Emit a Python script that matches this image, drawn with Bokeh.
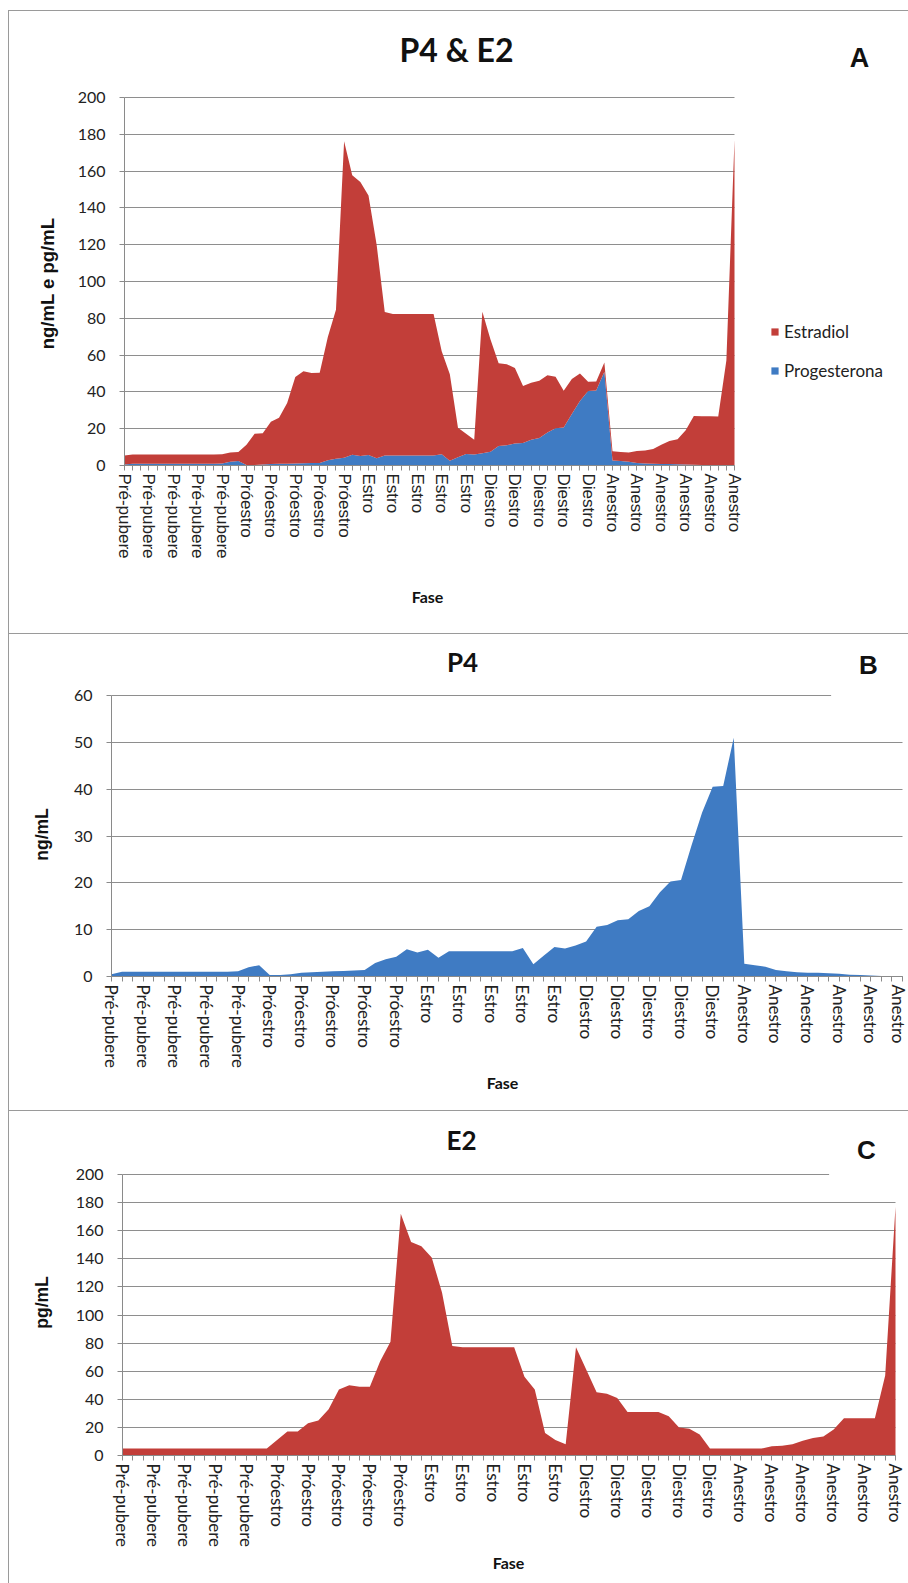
import math

from bokeh.plotting import figure
from bokeh.models import ColumnDataSource, FixedTicker, Label, Legend, LegendItem
from bokeh.embed import file_html
from bokeh.resources import INLINE

# Phase name shown under every third sample
phase_labels = (["Pré-pubere"] * 5 + ["Próestro"] * 5 + ["Estro"] * 5
                + ["Diestro"] * 5 + ["Anestro"] * 6)
label_every = 3

# Progesterone (ng/mL), one value per sample
progesterona = [
    0.5, 1.0, 1.0, 1.0, 1.0, 1.0, 1.0, 1.0, 1.0, 1.0, 1.0, 1.0, 1.1, 2.0, 2.4,
    0.3, 0.3, 0.5, 0.8, 0.9, 1.0, 1.1, 1.2, 1.3, 1.4, 2.9, 3.7, 4.2, 5.8, 5.1,
    5.7, 4.0, 5.4, 5.4, 5.4, 5.4, 5.4, 5.4, 5.4, 6.1, 2.6, 4.5, 6.3, 6.0, 6.6,
    7.5, 10.6, 11.0, 12.0, 12.2, 14.0, 15.0, 18.0, 20.3, 20.6, 28.0, 35.0, 40.5, 40.7, 51.0,
    2.7, 2.4, 2.1, 1.4, 1.1, 0.9, 0.8, 0.8, 0.7, 0.6, 0.4, 0.3, 0.2, 0.1, 0.1, 0.1,
]

# Estradiol (pg/mL), one value per sample
estradiol = [
    5, 5, 5, 5, 5, 5, 5, 5, 5, 5, 5, 5, 5, 5, 5,
    11, 17, 17, 23, 25, 33, 47, 50, 49, 49, 67, 81, 172, 152, 149,
    141, 116, 78, 77, 77, 77, 77, 77, 77, 56, 47, 16, 11, 8, 77,
    61, 45, 44, 41, 31, 31, 31, 31, 28, 20, 19, 15, 5, 5, 5,
    5, 5, 5, 6.5, 7, 8, 10.5, 12.5, 13.5, 18.5, 26.5, 26.5, 26.5, 26.5, 57, 177,
]

RED = "#C23E39"
BLUE = "#3F7BC3"
GRID = "#8E8E8E"
AXIS = "#8A8A8A"
BORDER = "1px solid #9a9a9a"

n = len(estradiol)
last = n - 1
x = list(range(n))
source = ColumnDataSource(dict(x=x, progesterona=progesterona, estradiol=estradiol))

tick_overrides = {i: (phase_labels[i // label_every] if i % label_every == 0 else "")
                  for i in x}

PAGE_W = 908
PAGE_LEFT = 8


def make_panel(top, height, x0_px, xl_px, y0_px, ytop_px, ymax, ystep, x_font, x_font_size):
    """One panel whose frame fills the whole canvas.  Both axes are pinned at
    zero and bounded to the data area, so every text can live in the frame.
    Positions are given in page pixels."""
    width = PAGE_W - PAGE_LEFT
    left, right = PAGE_LEFT + 1, PAGE_LEFT + 1 + width
    ptop, pbot = top + 1, top + 1 + height
    kx = last / (xl_px - x0_px)
    ky = ymax / (y0_px - ytop_px)
    p = figure(width=width, height=height,
               x_range=((left - x0_px) * kx, (right - x0_px) * kx),
               y_range=((y0_px - pbot) * ky, (y0_px - ptop) * ky),
               output_backend="svg", toolbar_location=None,
               min_border=0, background_fill_color="white",
               border_fill_color="white", outline_line_color=None)
    p.margin = (top if top < 100 else 0, 0, 0, PAGE_LEFT)
    p.styles = {"border-top": BORDER, "border-left": BORDER, "box-sizing": "border-box"}

    p.xaxis.fixed_location = 0
    p.xaxis.bounds = (0, last)
    p.xaxis.ticker = FixedTicker(ticks=x)
    p.xaxis.major_label_overrides = tick_overrides
    p.xaxis.major_label_orientation = "vertical"
    p.xaxis.major_label_text_font = x_font
    p.xaxis.major_label_text_font_size = x_font_size
    p.xaxis.major_label_text_color = "#222222"
    p.xaxis.major_tick_out = 5
    p.xaxis.major_tick_in = 0
    p.xaxis.major_label_standoff = 3

    p.yaxis.fixed_location = 0
    p.yaxis.bounds = (0, ymax)
    p.yaxis.ticker = FixedTicker(ticks=list(range(0, ymax + 1, ystep)))
    p.yaxis.major_label_text_font = "Lato"
    p.yaxis.major_label_text_font_size = "16px"
    p.yaxis.major_label_text_color = "#222222"
    p.yaxis.major_tick_out = 5
    p.yaxis.major_tick_in = 0
    p.yaxis.major_label_standoff = 14

    for ax in (p.xaxis, p.yaxis):
        ax.axis_line_color = AXIS
        ax.major_tick_line_color = AXIS
        ax.minor_tick_line_color = None

    p.xgrid.grid_line_color = None
    p.ygrid.grid_line_color = GRID
    p.ygrid.cross_bounds = (0, last)

    def put(px, py, text, font, size, bold=True, angle=0.0, **kw):
        p.add_layout(Label(x=px - left, y=pbot - py, x_units="screen", y_units="screen",
                           text=text, text_font=font, text_font_size=size,
                           text_font_style="bold" if bold else "normal",
                           text_align="center", text_baseline="middle",
                           angle=angle, text_color="#111111", **kw))

    def screen(px, py):
        return px - left, pbot - py

    return p, put, screen


VERTICAL = math.pi / 2

# ---- Panel A: stacked progesterone + estradiol ----
pa, put_a, scr_a = make_panel(top=10, height=623, x0_px=124, xl_px=734, y0_px=465,
                              ytop_px=97, ymax=200, ystep=20,
                              x_font="Liberation Sans", x_font_size="17px")
stack = pa.varea_stack(["progesterona", "estradiol"], x="x", color=[BLUE, RED], source=source)
put_a(456, 49, "P4 & E2", "Lato", "32px")
put_a(859, 57, "A", "Liberation Sans", "27px")
put_a(47, 283, "ng/mL e pg/mL", "Liberation Sans", "18.5px", angle=VERTICAL)
put_a(427, 596, "Fase", "Lato", "16px")
legend = Legend(items=[LegendItem(label="Estradiol", renderers=[stack[1]]),
                       LegendItem(label="Progesterona", renderers=[stack[0]])],
                location=scr_a(770, 381), orientation="vertical",
                glyph_width=9, glyph_height=9, label_height=20, spacing=18,
                label_standoff=5, padding=0, margin=0, border_line_color=None,
                background_fill_alpha=0, label_text_font="Lato",
                label_text_font_size="17px", label_text_color="#222222")
pa.add_layout(legend)

# ---- Panel B: progesterone ----
pb, put_b, _ = make_panel(top=633, height=477, x0_px=111, xl_px=902, y0_px=976,
                          ytop_px=695, ymax=60, ystep=10,
                          x_font="Lato", x_font_size="17px")
pb.varea(x="x", y1=0, y2="progesterona", color=BLUE, source=source)
put_b(462, 661, "P4", "Lato", "26px")
put_b(868, 664, "B", "Liberation Sans", "26px",
      background_fill_color="white", padding=28)
put_b(41, 834, "ng/mL", "Liberation Sans", "17.5px", angle=VERTICAL)
put_b(502, 1082, "Fase", "Lato", "16px")

# ---- Panel C: estradiol ----
pc, put_c, _ = make_panel(top=1110, height=473, x0_px=122, xl_px=895, y0_px=1455,
                          ytop_px=1174, ymax=200, ystep=20,
                          x_font="Lato", x_font_size="17px")
pc.varea(x="x", y1=0, y2="estradiol", color=RED, source=source)
put_c(461, 1139, "E2", "Lato", "26px")
put_c(866, 1149, "C", "Liberation Sans", "26px",
      background_fill_color="white", padding=28)
put_c(41, 1302, "pg/mL", "Liberation Sans", "17.5px", angle=VERTICAL)
put_c(508, 1562, "Fase", "Lato", "16px")

open("out.html", "w").write(file_html([pa, pb, pc], INLINE))
